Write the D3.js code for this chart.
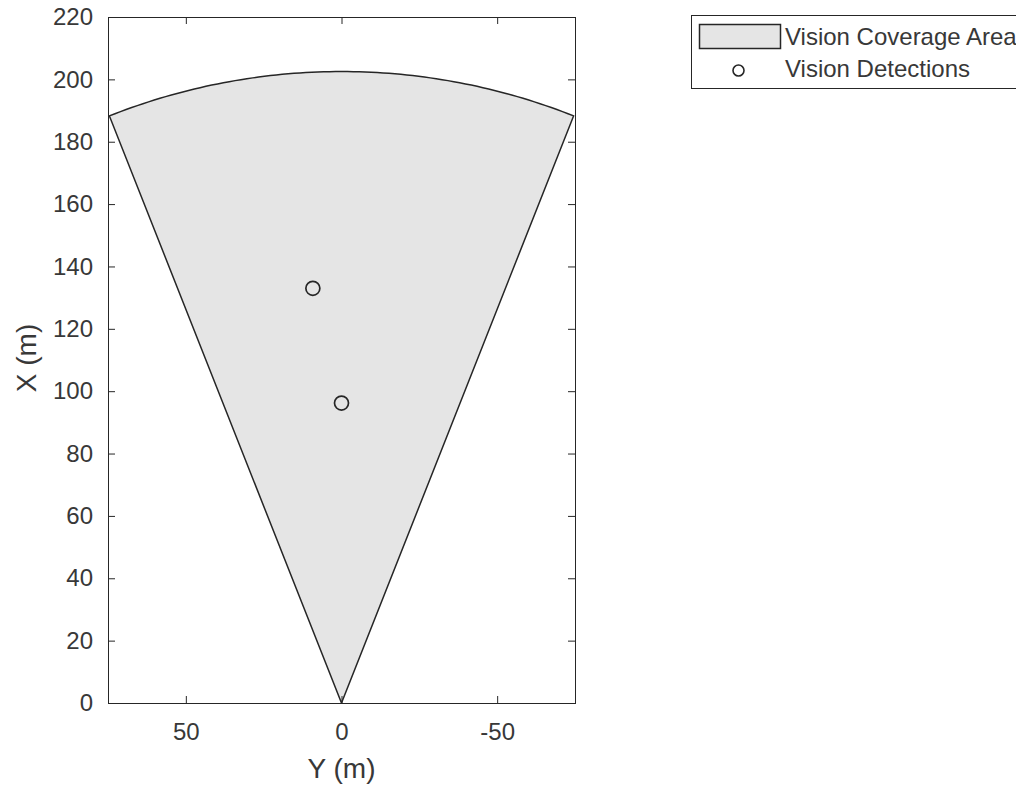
<!DOCTYPE html>
<html>
<head>
<meta charset="utf-8">
<script src="https://cdn.jsdelivr.net/npm/d3@7"></script>
<style>
  html, body { margin: 0; padding: 0; background: #fff; }
  svg { display: block; font-family: "Liberation Sans", Arial, Helvetica, sans-serif; }
</style>
</head>
<body>
<svg id="chart" width="1016" height="787"></svg>
<script>
// ---- data ----
const xTickValues = [0, 20, 40, 60, 80, 100, 120, 140, 160, 180, 200, 220]; // X (m), vertical
const yTickValues = [50, 0, -50];                                           // Y (m), horizontal (reversed)
const xDomain = [0, 220];
const yDomain = [75, -75];
const coverageRange = [202.5];        // max range of vision sensor (m)
const coverageHalfAngle = [21.6];     // half field of view (deg)
const detectionY = [9.2, 0.0];
const detectionX = [133.0, 96.2];
const legendLabels = ["Vision Coverage Area", "Vision Detections"];

// ---- layout ----
const svg = d3.select("#chart");
const plot = { left: 108, right: 575, top: 17, bottom: 703 };
const ink = "#262626";
const textInk = "#383838";

const xPix = d3.scaleLinear().domain(yDomain).range([plot.left, plot.right]);   // horizontal: Y (m)
const yPix = d3.scaleLinear().domain(xDomain).range([plot.bottom, plot.top]);   // vertical: X (m)

// coverage sector
const R = coverageRange[0];
const half = coverageHalfAngle[0] * Math.PI / 180;
const pts = [[0, 0]];
const n = 80;
for (let i = 0; i <= n; i++) {
  const th = half - (2 * half) * i / n;
  pts.push([R * Math.sin(th), R * Math.cos(th)]);
}
pts.push([0, 0]);
const line = d3.line().x(d => xPix(d[0])).y(d => yPix(d[1]));

svg.append("clipPath").attr("id", "plotclip").append("rect")
  .attr("x", plot.left).attr("y", plot.top)
  .attr("width", plot.right - plot.left).attr("height", plot.bottom - plot.top);

const g = svg.append("g").attr("clip-path", "url(#plotclip)");
g.append("path").attr("d", line(pts))
  .attr("fill", "#e5e5e5").attr("stroke", ink).attr("stroke-width", 1.5)
  .attr("stroke-linejoin", "miter");

g.selectAll("circle.det").data(detectionY.map((y, i) => [y, detectionX[i]]))
  .enter().append("circle").attr("class", "det")
  .attr("cx", d => xPix(d[0])).attr("cy", d => yPix(d[1]))
  .attr("r", 7).attr("fill", "none").attr("stroke", ink).attr("stroke-width", 1.7);

// axes
const tickLen = 7;
const fs = 24;
const axBottom = d3.axisBottom(xPix).tickValues(yTickValues).tickSize(-tickLen).tickPadding(20).tickFormat(d3.format("d"));
const axTop = d3.axisTop(xPix).tickValues(yTickValues).tickSize(-tickLen).tickFormat("");
const axLeft = d3.axisLeft(yPix).tickValues(xTickValues).tickSize(-tickLen).tickPadding(15).tickFormat(d3.format("d"));
const axRight = d3.axisRight(yPix).tickValues(xTickValues).tickSize(-tickLen).tickFormat("");

function styleAxis(sel) {
  sel.select(".domain").remove();
  sel.selectAll(".tick line").attr("stroke", ink).attr("stroke-width", 1);
  sel.selectAll(".tick text").attr("fill", textInk).attr("font-size", fs)
    .attr("font-family", "'Liberation Sans', Arial, sans-serif");
}
svg.append("g").attr("transform", `translate(0,${plot.bottom})`).call(axBottom).call(styleAxis)
  .selectAll(".tick text").text(d => d < 0 ? "-" + Math.abs(d) : d);
svg.append("g").attr("transform", `translate(0,${plot.top})`).call(axTop).call(styleAxis);
svg.append("g").attr("transform", `translate(${plot.left},0)`).call(axLeft).call(styleAxis);
svg.append("g").attr("transform", `translate(${plot.right},0)`).call(axRight).call(styleAxis);

svg.append("rect").attr("x", plot.left + 0.5).attr("y", plot.top + 0.5)
  .attr("width", plot.right - plot.left).attr("height", plot.bottom - plot.top)
  .attr("fill", "none").attr("stroke", ink).attr("stroke-width", 1);

// axis labels
svg.append("text").attr("x", (plot.left + plot.right) / 2).attr("y", 778)
  .attr("text-anchor", "middle").attr("font-size", 28).attr("fill", textInk).text("Y (m)");
svg.append("text").attr("transform", `translate(36,${(plot.top + plot.bottom) / 2 - 2}) rotate(-90)`)
  .attr("text-anchor", "middle").attr("font-size", 28).attr("fill", textInk).text("X (m)");

// legend
const lg = svg.append("g");
lg.append("rect").attr("x", 691.5).attr("y", 15.5).attr("width", 400).attr("height", 73)
  .attr("fill", "#fff").attr("stroke", ink).attr("stroke-width", 1);
lg.append("rect").attr("x", 699.5).attr("y", 24.5).attr("width", 81).attr("height", 24)
  .attr("fill", "#e5e5e5").attr("stroke", ink).attr("stroke-width", 1.5);
lg.append("circle").attr("cx", 738.5).attr("cy", 70.5).attr("r", 5.5)
  .attr("fill", "none").attr("stroke", ink).attr("stroke-width", 1.6);
lg.selectAll("text.lab").data(legendLabels).enter().append("text").attr("class", "lab")
  .attr("x", 785).attr("y", (d, i) => 45 + i * 32)
  .attr("font-size", 24).attr("fill", textInk).text(d => d);
</script>
</body>
</html>
